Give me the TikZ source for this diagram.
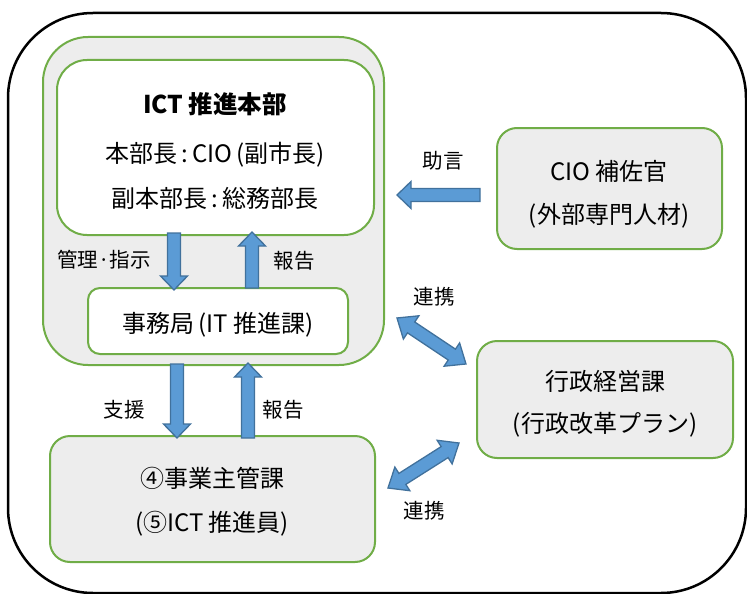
\documentclass[tikz,border=0pt]{standalone}
\usepackage{fontspec}
\setmainfont{Noto Sans CJK JP}
\usetikzlibrary{calc}
\definecolor{grn}{HTML}{70AD47}
\definecolor{gfill}{HTML}{EDEDED}
\definecolor{ablue}{HTML}{5B9BD5}
\definecolor{aline}{HTML}{41719C}
\tikzset{
  box/.style={draw=grn, line width=2pt, rectangle, inner sep=0pt},
  txt/.style={inner sep=0pt, font=\fontsize{24}{28}\selectfont},
  lbl/.style={inner sep=0pt, font=\fontsize{20.5}{24}\selectfont},
  blockarrow/.style={draw=aline, fill=ablue, line width=1.3pt, line join=miter},
}
\newcommand{\mkdir}[2]{%
  \pgfpointdiff{\pgfpointanchor{#1}{center}}{\pgfpointanchor{#2}{center}}%
  \pgfgetlastxy{\bdx}{\bdy}%
  \pgfmathsetmacro\bang{atan2(\bdy,\bdx)}%
  \pgfmathsetmacro\blen{veclen(\bdx,\bdy)}%
}
% single block arrow from #1 to #2
\newcommand{\barrow}[2]{%
  \mkdir{#1}{#2}%
  \draw[blockarrow, shift={(#1)}, rotate=\bang]
    (0pt,-6.5pt) -- ({\blen pt-14pt},-6.5pt) -- ({\blen pt-14pt},-13.5pt) -- (\blen pt,0pt)
    -- ({\blen pt-14pt},13.5pt) -- ({\blen pt-14pt},6.5pt) -- (0pt,6.5pt) -- cycle;
}
% double block arrow between #1 and #2
\newcommand{\dbarrow}[2]{%
  \mkdir{#1}{#2}%
  \draw[blockarrow, shift={(#1)}, rotate=\bang]
    (0pt,0pt) -- (17pt,14pt) -- (17pt,6.5pt) -- ({\blen pt-17pt},6.5pt) -- ({\blen pt-17pt},14pt)
    -- (\blen pt,0pt) -- ({\blen pt-17pt},-14pt) -- ({\blen pt-17pt},-6.5pt) -- (17pt,-6.5pt)
    -- (17pt,-14pt) -- cycle;
}
\begin{document}
\begin{tikzpicture}[x=1pt,y=-1pt]
\useasboundingbox (0,0) rectangle (747,594);
% outer frame
\node[draw=black, line width=2.5pt, rounded corners=85pt, minimum width=738pt, minimum height=580pt, inner sep=0pt] (frame) at (377,303) {};
% HQ group
\node[box, fill=gfill, rounded corners=45pt, minimum width=341pt, minimum height=328pt] (hq) at (213.5,201) {};
\node[box, fill=white, rounded corners=30pt, minimum width=317pt, minimum height=175pt] (hqin) at (215.5,147.5) {};
\node[box, fill=white, rounded corners=12pt, minimum width=260pt, minimum height=66pt] (sec) at (218,321) {};
\node[box, fill=gfill, rounded corners=20pt, minimum width=225pt, minimum height=121pt] (cio) at (609.5,188.5) {};
\node[box, fill=gfill, rounded corners=20pt, minimum width=256pt, minimum height=117pt] (gyo) at (605,399.5) {};
\node[box, fill=gfill, rounded corners=20pt, minimum width=325pt, minimum height=126pt] (jig) at (212.5,499) {};
% texts
\node[txt, font=\fontsize{24.5}{28}\selectfont\bfseries] (t1) at (215,104) {ICT 推進本部};
\node[txt] (t2) at (215,155) {本部長\,:\,CIO\,(副市長)};
\node[txt] (t3) at (215,198) {副本部長\,:\,総務部長};
\node[txt] (t4) at (218,325) {事務局\,(IT 推進課)};
\node[txt] (t5) at (609,171) {CIO 補佐官};
\node[txt] (t6) at (609,216) {(外部専門人材)};
\node[txt] (t7) at (605,381) {行政経営課};
\node[txt] (t8) at (605,425) {(行政改革プラン)};
\node[txt] (t9) at (212,478) {④事業主管課};
\node[txt] (t10) at (212,524) {(⑤ICT 推進員)};
% labels
\node[lbl] (l1) at (443,161) {助言};
\node[lbl] (l2) at (104,260) {管理·指示};
\node[lbl] (l3) at (294,261) {報告};
\node[lbl] (l4) at (434,297) {連携};
\node[lbl] (l5) at (124,410) {支援};
\node[lbl] (l6) at (283,410) {報告};
\node[lbl] (l7) at (424,511) {連携};
% arrow end points
\coordinate (a1s) at (480,195); \coordinate (a1e) at (397,195);
\coordinate (a2s) at (174,233); \coordinate (a2e) at (174,290);
\coordinate (a3s) at (252,288); \coordinate (a3e) at (252,232);
\coordinate (a4s) at (177,364); \coordinate (a4e) at (177,438);
\coordinate (a5s) at (248,438); \coordinate (a5e) at (248,363);
\coordinate (a6s) at (397,318); \coordinate (a6e) at (466,364);
\coordinate (a7s) at (388,488); \coordinate (a7e) at (459,443);
\barrow{a1s}{a1e}
\barrow{a2s}{a2e}
\barrow{a3s}{a3e}
\barrow{a4s}{a4e}
\barrow{a5s}{a5e}
\dbarrow{a6s}{a6e}
\dbarrow{a7s}{a7e}
\end{tikzpicture}
\end{document}
